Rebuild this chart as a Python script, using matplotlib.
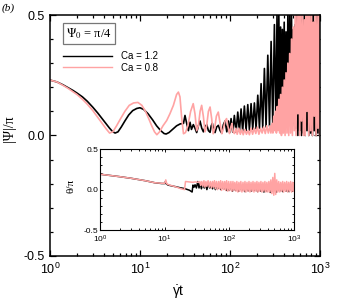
"""
Panel (b): |Psi|/pi versus strain, Psi0 = pi/4, two capillary numbers,
with an inset of theta/pi.
"""
import matplotlib
matplotlib.use('Agg')
import matplotlib.pyplot as plt
import numpy as np
from matplotlib.ticker import MultipleLocator, LogLocator, NullFormatter

# ---- data: (gamma_dot*t, value) ----
# main panel, Ca = 1.2
ca12_main = [
    (1.0, .23), (1.2, .222), (1.4, .21), (1.6, .198), (1.8, .187), (2.0, .176),
    (2.3, .16), (2.6, .142), (3.0, .117), (3.4, .093), (3.8, .07), (4.2, .05),
    (4.6, .03), (5.0, .015), (5.3, .01), (5.7, .015), (6.2, .035), (6.8, .06),
    (7.5, .085), (8.3, .103), (9.2, .112), (10.0, .115), (11.0, .108), (12.3, .09),
    (13.8, .065), (15.3, .04), (17.0, .02), (18.5, .008), (19.5, .006), (21.0, .012),
    (23.0, .025), (25.5, .04), (28.0, .048), (30.4, .05), (31.6, .083), (33.0, .05),
    (34.5, .02), (35.9, .055), (37.3, .025), (39.1, .045), (40.8, .03), (42.6, .012),
    (44.5, .04), (46.4, .06), (48.5, .03), (50.6, .015), (52.8, .035), (55.1, .045),
    (57.5, .02), (60.0, .013), (61.8, .04), (63.6, .05), (65.8, .02), (68.1, .012),
    (71.0, .035), (74.2, .042), (77.5, .02), (80.8, .01), (84.3, .045), (88.0, .06),
    (92.0, .015), (96.0, .06), (99.0, .012), (102.6, .07), (107, .014), (111.6, .083),
    (116.6, .014), (121.8, .097), (127, .016), (132.5, .11), (138, .018), (144.2, .122),
    (150.6, .02), (157.3, .128), (164, .022), (171.1, .132), (178.5, .025), (186.2, .135),
    (194.5, .028), (203.1, .167), (212, .03), (221, .215), (230.5, .032), (240.5, .278),
    (251, .035), (262.4, .333), (274, .038), (285.5, .39), (298, .04), (310.6, .46),
    (323, .04), (332, .5), (340, .04), (348, .5), (356, .05), (364, .45), (372, .04),
    (381, .44), (390, .06), (399, .47), (408, .05), (418, .43), (428, .07), (438, .5),
    (448, .05), (459, .5), (470, .06), (481, .5), (492, .04), (504, .44), (516, .05),
    (528, .46), (540, .03), (553, .5), (566, .0), (579, .5), (593, .02), (607, .5),
    (621, .0), (636, .48), (651, .01), (666, .5), (682, .0), (698, .5), (714, .02),
    (731, .45), (748, .0), (766, .5), (784, .01), (802, .5), (821, .0), (840, .5),
    (860, .02), (880, .47), (901, .0), (922, .5), (944, .01), (966, .5), (989, .0),
    (1000, .3),
]

# main panel, Ca = 0.8
ca08_main = [
    (1.0, .23), (1.2, .222), (1.4, .208), (1.6, .195), (1.8, .182), (2.0, .17),
    (2.3, .15), (2.6, .13), (3.0, .103), (3.4, .075), (3.8, .05), (4.2, .028),
    (4.6, .01), (5.0, .015), (5.5, .04), (6.1, .07), (6.8, .1), (7.6, .125),
    (8.5, .135), (9.5, .137), (10.5, .125), (11.5, .1), (12.5, .07), (13.5, .04),
    (14.5, .015), (15.4, .003), (16.5, .015), (18.0, .04), (19.8, .062), (21.5, .09),
    (23.5, .125), (25.5, .17), (26.7, .18), (27.8, .16), (29.0, .076), (30.4, .007),
    (32.0, .012), (34.0, .04), (36.5, .1), (39.0, .132), (40.8, .09), (42.6, .02),
    (44.5, .04), (46.5, .1), (48.4, .125), (50.5, .08), (52.7, .015), (55.0, .04),
    (57.5, .1), (60.0, .118), (62.5, .07), (65.0, .007), (67.5, .03), (70.5, .08),
    (74.0, .097), (77.5, .05), (81.0, .007), (84.5, .03), (88.0, .06), (91.5, .07),
    (95.0, .035), (98.5, .008), (102, .035), (105, .05), (108, .015), (112, .008),
    (116, .03), (120, .005), (125, .03), (130, .005), (135, .025), (140, .003),
    (146, .025), (152, .005), (158, .02), (164, .003), (171, .03), (178, .005),
    (185, .03), (193, .008), (201, .035), (209, .005), (218, .03), (227, .01),
    (236, .035), (246, .008), (256, .04), (266, .01), (277, .04), (284, .01),
    (292, .05), (299, .01), (306, .08), (313, .02), (320, .1), (327, .01),
    (334, .12), (341, .02), (348, .15), (356, .01), (364, .17), (372, .0),
    (381, .2), (390, .01), (399, .23), (408, .0), (418, .26), (428, .01),
    (438, .3), (448, .0), (459, .34), (470, .01), (481, .4), (492, .0),
    (504, .45), (516, .02), (528, .5), (540, .0), (553, .5), (566, .09),
    (579, .5), (593, .0), (607, .5), (621, .06), (636, .5), (651, .0),
    (666, .48), (682, .0), (698, .5), (714, .1), (731, .5), (748, .0),
    (766, .5), (784, .02), (802, .5), (821, .0), (840, .47), (860, .08),
    (880, .5), (901, .0), (922, .5), (944, .03), (966, .5), (989, .0), (1000, .5),
]

# inset theta/pi, Ca = 1.2
ca12_inset = [
    (1, .19), (2, .16), (3, .14), (5, .11), (7, .085), (9, .075), (10, .075),
    (10.3, .1), (10.6, .07), (11.3, .056), (13, .045), (15, .035), (17.5, .022),
    (20.3, .013), (24.2, -.008), (26.6, -.03), (27.4, .056), (28.5, .03), (29.5, .06),
    (31, .02), (32.5, .1), (34, .02), (35.5, .08), (37, .01), (39, .07), (41, .02),
    (43, .065), (45, .0), (47.5, .07), (50, .02), (52.5, .06), (55, .01), (58, .06),
    (61, .0), (64, .05), (67, .015), (70, .06), (74, .0), (78, .05), (82, .005),
    (86, .045), (90, -.01), (95, .05), (100, -.01), (106, .05), (112, -.02),
    (118, .045), (125, -.01), (132, .05), (140, -.02), (148, .04), (156, -.01),
    (165, .045), (175, -.025), (185, .04), (196, -.015), (207, .05), (219, -.02),
    (232, .045), (245, -.01), (259, .05), (274, -.025), (290, .06), (307, -.02),
    (325, .05), (344, -.03), (364, .055), (385, -.02), (407, .06), (430, -.035),
    (455, .05), (481, -.02), (509, .07), (538, -.03), (569, .05), (602, -.02),
    (637, .05), (673, -.025), (712, .045), (753, -.02), (796, .05), (842, -.025),
    (890, .04), (941, -.02), (1000, .04),
]

# inset theta/pi, Ca = 0.8
ca08_inset = [
    (1, .19), (2, .16), (3, .14), (5, .11), (7, .085), (9, .078), (10, .078),
    (10.4, .12), (10.8, .07), (12, .055), (14, .04), (16, .025), (18, .01),
    (20.3, .0), (21, .1), (24, .095), (27, .09), (30, .095), (33, .09), (35, .1),
    (36, .05), (37.5, .1), (39, .04), (40.5, .11), (42, .03), (43.5, .1), (45, .04),
    (47, .11), (49, .03), (51, .1), (53, .02), (55, .1), (57, .03), (59, .11),
    (61, .01), (63.5, .1), (66, .0), (68.5, .1), (71, .01), (73.5, .11), (76, -.01),
    (79, .1), (82, .0), (85, .1), (88, -.01), (91, .11), (95, -.02), (98, .1),
    (102, -.01), (106, .1), (110, -.02), (114, .1), (118, -.01), (122, .09),
    (127, -.02), (131, .1), (136, -.03), (141, .09), (146, -.02), (151, .1),
    (157, -.03), (163, .09), (169, -.02), (175, .1), (181, -.03), (188, .09),
    (195, -.02), (202, .1), (209, -.03), (217, .09), (225, -.02), (233, .1),
    (241, -.03), (250, .09), (259, -.02), (268, .1), (278, -.03), (288, .09),
    (298, -.02), (309, .1), (320, -.03), (332, .09), (344, -.02), (356, .1),
    (369, -.03), (382, .09), (396, -.03), (410, .1), (425, -.03), (440, .12),
    (456, -.05), (472, .15), (489, -.07), (506, .2), (524, -.06), (543, .12),
    (563, -.03), (583, .1), (604, -.03), (626, .09), (648, -.02), (671, .1),
    (695, -.03), (720, .09), (746, -.02), (773, .1), (801, -.03), (830, .09),
    (860, -.02), (891, .1), (923, -.03), (956, .09), (990, -.02), (1000, .08),
]

labels = ['Ca = 1.2', 'Ca = 0.8']
colors = ['black', '#ffa3a3']

plt.rcParams['font.family'] = ['Liberation Sans', 'DejaVu Sans']
plt.rcParams['mathtext.fontset'] = 'custom'
plt.rcParams['mathtext.rm'] = 'Liberation Sans'
plt.rcParams['mathtext.it'] = 'Liberation Sans:italic'
plt.rcParams['mathtext.bf'] = 'Liberation Sans:bold'
plt.rcParams['axes.unicode_minus'] = False

SERIF = ['Liberation Serif', 'DejaVu Serif']


def style_axis(ax, size, lw, major, minor):
    ax.set_xscale('log')
    ax.set_xlim(1, 1000)
    ax.set_ylim(-0.5, 0.5)
    ax.yaxis.set_major_locator(MultipleLocator(0.5))
    ax.yaxis.set_minor_locator(MultipleLocator(0.1))
    ax.yaxis.set_major_formatter(lambda v, p: f'{v:.1f}')
    ax.xaxis.set_major_locator(LogLocator(base=10, numticks=10))
    ax.xaxis.set_minor_locator(LogLocator(base=10, subs=np.arange(2, 10), numticks=20))
    ax.xaxis.set_minor_formatter(NullFormatter())
    ax.tick_params(which='both', direction='in', top=True, right=True,
                   labelsize=size, width=lw * 0.8)
    ax.tick_params(which='major', length=major)
    ax.tick_params(which='minor', length=minor)
    for s in ax.spines.values():
        s.set_linewidth(lw)


fig = plt.figure(figsize=(3.37, 3.0), dpi=100)

# main panel
ax = fig.add_axes([0.148, 0.147, 0.802, 0.803])
for data, lab, c in zip([ca12_main, ca08_main], labels, colors):
    t, v = np.array(data).T
    ax.plot(t, v, color=c, lw=1.2, label=lab)
style_axis(ax, 9, 1.1, 4, 2.5)
ax.tick_params(axis='x', pad=4)
ax.set_xlabel(r'$\dot{\mathrm{\gamma}}\mathrm{t}$', fontsize=10)
ax.xaxis.set_label_coords(0.474, -0.115)
ax.set_ylabel('|Ψ|/π', fontsize=10, family=SERIF)
ax.yaxis.set_label_coords(-0.125, 0.527)

ax.text(0.146, 0.923, r'$\Psi_0$ = π/4', transform=ax.transAxes, fontsize=9,
        family=SERIF, math_fontfamily='stix', ha='center', va='center',
        bbox=dict(boxstyle='square,pad=0.25', fc='white', ec='#777777', lw=0.9))
leg = ax.legend(loc='upper left', bbox_to_anchor=(0.05, 0.85), frameon=False,
                fontsize=7, handlelength=5.0, handletextpad=0.9, labelspacing=0.15,
                borderpad=0, borderaxespad=0)
for line in leg.get_lines():
    line.set_linewidth(1.0)

fig.text(0.006, 0.988, '(b)', fontsize=8, family=SERIF, style='italic',
         ha='left', va='top')

# inset
ins = fig.add_axes([0.297, 0.233, 0.575, 0.27])
for data, c in zip([ca12_inset, ca08_inset], colors):
    t, v = np.array(data).T
    ins.plot(t, v, color=c, lw=1.1)
style_axis(ins, 6, 0.8, 2.5, 1.5)
ins.tick_params(axis='y', pad=1.5)
ins.tick_params(axis='x', pad=2.5)
ins.set_ylabel('θ/π', fontsize=8, family=SERIF)
ins.yaxis.set_label_coords(-0.125, 0.55)

fig.savefig('out.png', dpi=100)
